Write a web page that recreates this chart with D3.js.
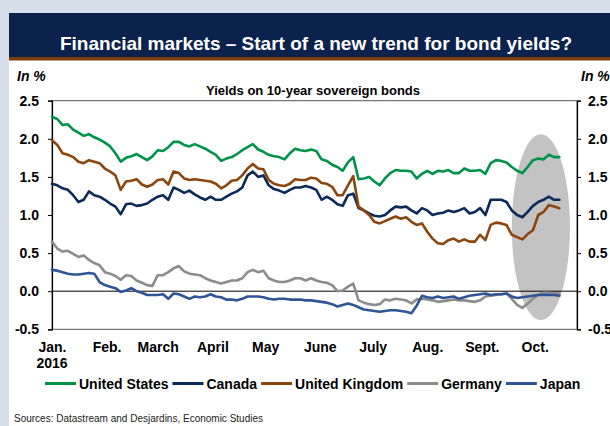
<!DOCTYPE html>
<html><head><meta charset="utf-8">
<script src="https://cdn.jsdelivr.net/npm/d3@7"></script>
<style>
body{margin:0;background:#d6dfe9;}
svg{display:block;font-family:"Liberation Sans",Arial,sans-serif;}
</style>
</head><body>
<svg id="chart" width="610" height="426"></svg>
<script>
// ---- data (every 3 calendar days starting Jan 4, 2016) ----
const startDate = "2016-01-04";
const stepDays = 3;

const unitedStates = [2.29,2.26,2.18,2.19,2.12,2.08,2.04,2.06,2.02,1.99,1.95,1.90,1.81,1.70,1.75,1.77,1.80,1.76,1.72,1.77,1.85,1.84,1.89,1.96,1.96,1.92,
1.90,1.93,1.90,1.87,1.83,1.79,1.71,1.74,1.76,1.80,1.85,1.89,1.93,1.86,1.83,1.79,1.77,1.76,1.73,1.81,1.87,1.85,1.84,
1.86,1.84,1.73,1.71,1.66,1.63,1.58,1.69,1.76,1.47,1.48,1.50,1.44,1.39,1.48,1.55,1.59,1.58,1.58,1.57,1.48,1.54,1.58,1.54,1.58,
1.57,1.59,1.55,1.55,1.61,1.58,1.58,1.59,1.54,1.68,1.72,1.71,1.69,1.63,1.58,1.55,1.63,1.72,1.74,1.73,1.79,1.76,1.76];

const canada = [1.41,1.39,1.35,1.33,1.26,1.17,1.20,1.31,1.26,1.24,1.20,1.15,1.11,1.01,1.14,1.15,1.12,1.13,1.15,1.20,1.24,1.26,1.20,1.36,1.33,1.29,
1.32,1.27,1.23,1.20,1.24,1.20,1.20,1.24,1.28,1.31,1.36,1.52,1.57,1.50,1.52,1.39,1.34,1.32,1.29,1.33,1.36,1.36,1.38,
1.36,1.33,1.20,1.24,1.20,1.14,1.12,1.26,1.28,1.09,1.06,1.02,0.99,0.98,1.00,1.06,1.11,1.10,1.11,1.06,1.02,1.09,1.06,1.00,1.02,
1.03,1.06,1.04,1.06,1.09,1.02,1.04,1.09,1.00,1.20,1.20,1.20,1.17,1.06,1.00,0.97,1.04,1.12,1.17,1.20,1.24,1.20,1.20];

const unitedKingdom = [1.98,1.92,1.81,1.79,1.76,1.70,1.68,1.72,1.70,1.68,1.61,1.57,1.52,1.33,1.44,1.45,1.47,1.40,1.37,1.40,1.46,1.47,1.40,1.57,1.55,1.48,
1.46,1.47,1.46,1.45,1.44,1.41,1.35,1.39,1.45,1.46,1.52,1.61,1.67,1.61,1.60,1.46,1.41,1.39,1.38,1.41,1.47,1.46,1.46,
1.49,1.48,1.42,1.41,1.37,1.26,1.26,1.39,1.51,1.11,1.06,1.00,0.91,0.89,0.92,0.95,0.98,0.95,0.97,0.91,0.87,0.89,0.78,0.69,0.63,
0.62,0.67,0.69,0.65,0.68,0.65,0.65,0.74,0.67,0.87,0.90,0.89,0.87,0.74,0.71,0.68,0.75,0.80,1.00,1.04,1.13,1.11,1.09];

const germany = [0.65,0.56,0.52,0.53,0.49,0.45,0.47,0.41,0.37,0.34,0.25,0.23,0.20,0.15,0.21,0.20,0.14,0.11,0.08,0.07,0.21,0.21,0.25,0.30,0.33,0.26,
0.23,0.22,0.21,0.17,0.14,0.12,0.10,0.12,0.14,0.14,0.17,0.25,0.28,0.25,0.27,0.17,0.14,0.12,0.12,0.14,0.17,0.17,0.14,
0.17,0.14,0.12,0.11,0.08,0.00,0.01,0.06,0.10,-0.12,-0.15,-0.17,-0.18,-0.17,-0.11,-0.12,-0.10,-0.11,-0.12,-0.16,-0.11,-0.10,-0.11,-0.12,-0.14,
-0.13,-0.12,-0.11,-0.12,-0.12,-0.13,-0.14,-0.12,-0.07,-0.06,-0.05,-0.04,-0.03,-0.10,-0.18,-0.22,-0.16,-0.10,-0.05,-0.02,-0.02,-0.03,-0.03];

const japan = [0.28,0.27,0.25,0.23,0.22,0.22,0.23,0.24,0.23,0.12,0.08,0.06,0.04,-0.01,0.01,0.04,0.00,-0.02,-0.05,-0.05,-0.05,-0.04,-0.10,-0.03,-0.04,-0.07,
-0.10,-0.07,-0.08,-0.07,-0.04,-0.07,-0.08,-0.11,-0.11,-0.12,-0.10,-0.07,-0.07,-0.07,-0.08,-0.10,-0.11,-0.10,-0.10,-0.11,
-0.11,-0.11,-0.12,-0.12,-0.13,-0.14,-0.15,-0.17,-0.20,-0.18,-0.16,-0.18,-0.21,-0.24,-0.25,-0.26,-0.27,-0.26,-0.25,-0.25,-0.26,-0.27,-0.29,-0.19,
-0.06,-0.08,-0.09,-0.07,-0.09,-0.08,-0.07,-0.10,-0.08,-0.06,-0.05,-0.04,-0.03,-0.05,-0.04,-0.04,-0.03,-0.07,-0.09,-0.08,-0.07,-0.06,-0.05,-0.05,-0.05,-0.05,-0.06];

const seriesNames = ["United States","Canada","United Kingdom","Germany","Japan"];
const seriesColors = ["#00924a","#0c2a58","#8b4610","#8c8c8c","#2f5596"];
const seriesValues = [unitedStates, canada, unitedKingdom, germany, japan];

const monthLabels = ["Jan.","Feb.","March","April","May","June","July","Aug.","Sept.","Oct."];
const monthTickDates = ["2016-01-04","2016-02-04","2016-03-04","2016-04-04","2016-05-04","2016-06-04","2016-07-04","2016-08-04","2016-09-04","2016-10-04"];
const yearLabel = "2016";
const yTicks = [2.5,2.0,1.5,1.0,0.5,0.0,-0.5];
const xDomain = ["2016-01-04","2016-10-28"];
const yDomain = [-0.5, 2.5];
const highlightDates = ["2016-09-21","2016-10-24"];
const highlightValues = [-0.38, 2.06];

const titleText = "Financial markets \u2013 Start of a new trend for bond yields?";
const subtitleText = "Yields on 10-year sovereign bonds";
const unitText = "In %";
const sourceText = "Sources: Datastream and Desjardins, Economic Studies";

// ---- drawing ----
const parse = d3.timeParse("%Y-%m-%d");
const svg = d3.select("#chart");
const W = 610, H = 426;
const plot = {left:52, right:577, top:100.7, bottom:329.3};

// panel
svg.append("rect").attr("x",9).attr("y",13).attr("width",W-9).attr("height",H-13).attr("fill","#ffffff");
svg.append("rect").attr("x",9).attr("y",13).attr("width",W-9).attr("height",44).attr("fill","#0b234c");
svg.append("rect").attr("x",9).attr("y",57).attr("width",W-9).attr("height",3.5).attr("fill","#7b3d0c");
svg.append("text").attr("x",316).attr("y",50).attr("text-anchor","middle")
  .attr("fill","#ffffff").attr("font-size","19px").attr("font-weight","bold").text(titleText);

svg.append("text").attr("x",17).attr("y",81).attr("font-size","14px").attr("font-weight","bold")
  .attr("font-style","italic").text(unitText);
svg.append("text").attr("x",581).attr("y",81).attr("font-size","14px").attr("font-weight","bold")
  .attr("font-style","italic").text(unitText);
svg.append("text").attr("x",313).attr("y",95).attr("text-anchor","middle").attr("font-size","13px")
  .attr("font-weight","bold").text(subtitleText);

const x = d3.scaleTime().domain(xDomain.map(parse)).range([plot.left, plot.right]);
const y = d3.scaleLinear().domain(yDomain).range([plot.bottom, plot.top]);

// highlight ellipse
const hx = highlightDates.map(d=>x(parse(d)));
const hy = highlightValues.map(v=>y(v));
svg.append("ellipse")
  .attr("cx",(hx[0]+hx[1])/2).attr("cy",(hy[0]+hy[1])/2)
  .attr("rx",Math.abs(hx[1]-hx[0])/2).attr("ry",Math.abs(hy[1]-hy[0])/2)
  .attr("fill","#c3c3c3");

// plot frame
svg.append("rect").attr("x",plot.left).attr("y",plot.top)
  .attr("width",plot.right-plot.left).attr("height",plot.bottom-plot.top)
  .attr("fill","none").attr("stroke","#555").attr("stroke-width",1);

// zero line
svg.append("line").attr("x1",plot.left).attr("x2",plot.right)
  .attr("y1",y(0)).attr("y2",y(0)).attr("stroke","#000").attr("stroke-width",1);

// axes
const fmt = d => d.toFixed(1);
const leftAxis = svg.append("g").attr("transform",`translate(${plot.left},0)`)
  .call(d3.axisLeft(y).tickValues(yTicks).tickFormat(fmt).tickSize(4).tickPadding(9));
const rightAxis = svg.append("g").attr("transform",`translate(${plot.right},0)`)
  .call(d3.axisRight(y).tickValues(yTicks).tickFormat(fmt).tickSize(4).tickPadding(7));
[leftAxis,rightAxis].forEach(g=>{
  g.select(".domain").attr("stroke","#000").attr("stroke-width",1.2);
  g.selectAll(".tick line").attr("stroke","#000");
  g.selectAll("text").attr("font-size","14px").attr("font-weight","bold").attr("fill","#000")
    .attr("font-family","'Liberation Sans',Arial,sans-serif");
});

const xAxis = svg.append("g").attr("transform",`translate(0,${plot.bottom})`)
  .call(d3.axisBottom(x).tickValues(monthTickDates.map(parse)).tickSize(0).tickPadding(13)
    .tickFormat((d,i)=>monthLabels[i]));
xAxis.select(".domain").remove();
xAxis.selectAll("text").attr("font-size","14px").attr("font-weight","bold").attr("fill","#000")
  .attr("font-family","'Liberation Sans',Arial,sans-serif");
svg.append("text").attr("x",x(parse(monthTickDates[0]))).attr("y",367.5).attr("text-anchor","middle")
  .attr("font-size","14px").attr("font-weight","bold").text(yearLabel);

// series
const start = parse(startDate);
const line = d3.line().x(d=>x(d.date)).y(d=>y(d.value));
seriesValues.forEach((vals,si)=>{
  const pts = vals.map((v,i)=>({date:d3.timeDay.offset(start,i*stepDays), value:v}));
  svg.append("path").datum(pts).attr("d",line).attr("fill","none")
    .attr("stroke",seriesColors[si]).attr("stroke-width",2.6)
    .attr("stroke-linejoin","round").attr("stroke-linecap","round");
});

// legend
const legend = svg.append("g");
let lx = 45;
const ly = 383.5;
seriesNames.forEach((name,i)=>{
  legend.append("line").attr("x1",lx).attr("x2",lx+31).attr("y1",ly).attr("y2",ly)
    .attr("stroke",seriesColors[i]).attr("stroke-width",3);
  const t = legend.append("text").attr("x",lx+34).attr("y",ly+5).attr("font-size","14px")
    .attr("font-weight","bold").text(name);
  lx = lx + 34 + t.node().getComputedTextLength() + 4;
});

svg.append("text").attr("x",14).attr("y",422).attr("font-size","10px").attr("fill","#222").text(sourceText);
</script>
</body></html>
